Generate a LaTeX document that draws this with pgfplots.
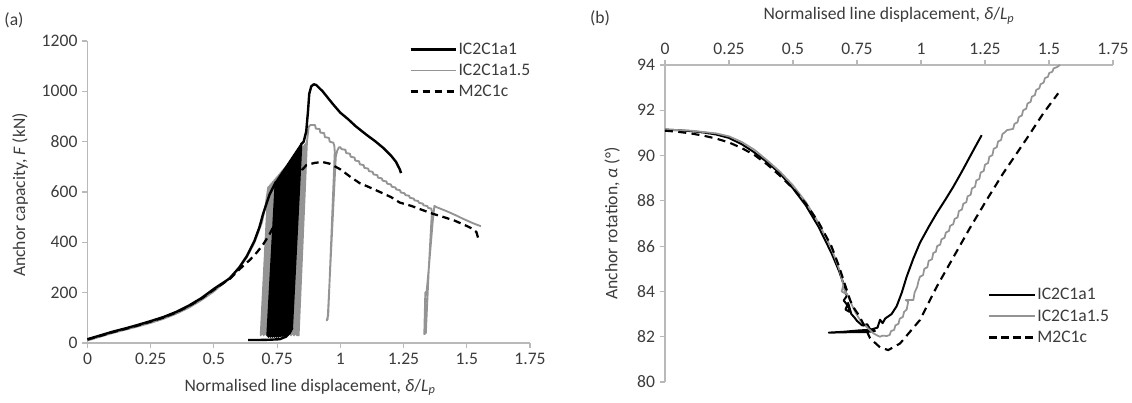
\documentclass[border=0pt]{standalone}
\usepackage{pgfplots}
\pgfplotsset{compat=1.18}
\usepackage{fontspec}
\setmainfont{Carlito}
\definecolor{sgray}{RGB}{148,148,148}
\definecolor{axgray}{RGB}{185,185,185}
\definecolor{txt}{RGB}{60,60,60}
\newcommand{\fs}{\fontsize{13.2}{15}\selectfont}
\pgfplotsset{
  common/.style={
    scale only axis,
    font=\fs,
    tick label style={text=txt, font=\fs},
    /pgf/number format/assume math mode=true,
    /pgf/number format/1000 sep={},
    axis line style={-, axgray, line width=0.8pt},
    tick style={axgray, line width=0.8pt},
    major tick length=4pt,
    tick align=outside,
    xtick={0,0.25,0.5,0.75,1,1.25,1.5,1.75},
    xticklabels={0,0.25,0.5,0.75,1,1.25,1.5,1.75},
    xmin=0, xmax=1.75,
    legend cell align=left,
    legend style={draw=none, fill=none, font=\fs, text=txt, row sep=3.8pt, inner sep=0pt, nodes={inner sep=1pt}},
    legend image code/.code={\draw[##1] (0pt,0pt) -- (34pt,0pt);},
    label style={text=txt, font=\fs},
    clip=false,
  },
  blk/.style={black, line width=1.8pt, line join=round},
  gry/.style={sgray, line width=1.4pt, line join=round},
  dsh/.style={black, line width=1.7pt, dash pattern=on 5.5pt off 3.5pt},
}
\begin{document}
\begin{tikzpicture}
\useasboundingbox (0,0) rectangle (849pt,-302.25pt);
\node[font=\fs, text=txt] at (10.5pt,-15pt) {(a)};
\node[font=\fs, text=txt] at (450pt,-13.5pt) {(b)};
% ---------------- (a)
\begin{axis}[common, at={(65.6pt,-257.25pt)}, anchor=south west,
  width=331.9pt, height=226.5pt,
  ymin=0, ymax=1200, ytick={0,200,400,600,800,1000,1200},
  axis x line*=bottom, axis y line*=left,
  xlabel={Normalised line displacement, \textit{δ}/\textit{L}\textsubscript{\textit{p}}},
  xlabel style={at={(axis description cs:0.503,-0.146)}, anchor=center},
  ylabel={Anchor capacity, \textit{F} (kN)},
  ylabel style={at={(axis description cs:-0.1525,0.49)}, anchor=center},
  legend style={at={(0.727,1.0)}, anchor=north west},
]
% gray IC2C1a1.5
\addplot[gry, forget plot] coordinates {
(0,10) (0.05,25) (0.1,40) (0.15,53) (0.2,66) (0.25,80) (0.3,96) (0.35,116) (0.4,140) (0.45,170) (0.5,205) (0.55,248) (0.6,298) (0.63,340) (0.66,398) (0.69,480) (0.705,550) (0.715,620)
(0.685,30) (0.721,627) (0.691,35) (0.727,634) (0.697,30) (0.733,641) (0.703,35) (0.739,648) (0.709,30) (0.745,655) (0.715,35) (0.751,662) (0.721,30) (0.757,669) (0.727,35) (0.763,676) (0.733,30) (0.769,683) (0.739,35) (0.775,690) (0.745,30) (0.781,697) (0.751,35) (0.787,704) (0.757,30) (0.793,711) (0.763,35) (0.799,718) (0.769,30) (0.805,725) (0.775,35) (0.811,732) (0.781,30) (0.817,739) (0.787,35) (0.823,746) (0.793,30) (0.829,753) (0.799,35) (0.835,760) (0.805,30) (0.841,767) (0.811,35) (0.847,774) (0.817,30) (0.853,781) (0.823,35) (0.859,788) (0.829,30) (0.865,795) (0.835,30)
(0.868,800) (0.875,860) (0.882,866) (0.9,866) (0.903,852) (0.918,850) (0.921,836) (0.936,834) (0.939,818) (0.955,815) (0.958,800) (0.972,796) (0.976,785) (0.978,760) (0.952,110) (0.946,90) (0.95,95) (0.982,740) (0.988,765) (0.995,778) (1.0,778) (1.005,770) (1.02,768) (1.023,755) (1.038,752) (1.041,740) (1.056,737) (1.059,725) (1.074,722) (1.077,710) (1.092,707) (1.095,696) (1.11,693) (1.113,683) (1.128,680) (1.131,670) (1.146,667) (1.149,657) (1.164,654) (1.167,645) (1.182,642) (1.185,633) (1.2,630) (1.203,621) (1.218,618) (1.221,610) (1.236,607) (1.239,598) (1.254,595) (1.257,588) (1.272,585) (1.275,577) (1.29,574) (1.293,567) (1.308,564) (1.311,557) (1.326,554) (1.329,547) (1.344,544) (1.347,537) (1.36,534) (1.362,520) (1.35,300) (1.338,40) (1.332,35) (1.336,200) (1.345,210) (1.34,190) (1.35,300) (1.365,480) (1.372,545) (1.38,540) (1.4,532) (1.42,524) (1.44,515) (1.46,506) (1.48,496) (1.5,487) (1.52,478) (1.54,470) (1.556,464)
};
% dashed M2C1c
\addplot[dsh, forget plot] coordinates {
(0,14) (0.05,28) (0.1,43) (0.15,56) (0.2,70) (0.25,85) (0.3,101) (0.35,121) (0.4,146) (0.45,176) (0.5,212) (0.563,255) (0.6,292) (0.642,330) (0.67,360) (0.695,392) (0.72,432) (0.76,510) (0.8,590) (0.83,650) (0.85,690) (0.866,707) (0.9,716) (0.93,719) (0.96,712) (1.0,690) (1.04,660) (1.077,635) (1.11,621) (1.15,603) (1.2,580) (1.235,558) (1.28,545) (1.32,530) (1.367,513) (1.4,503) (1.45,487) (1.5,465) (1.52,455) (1.538,441) (1.546,413)
};
% black IC2C1a1
\addplot[blk, forget plot] coordinates {
(0,15) (0.05,30) (0.1,45) (0.15,58) (0.2,72) (0.25,87) (0.3,103) (0.35,123) (0.4,148) (0.45,178) (0.5,215) (0.563,257) (0.6,300) (0.63,345) (0.66,405) (0.68,460) (0.695,515) (0.72,590)
(0.745,640) (0.712,30) (0.749,646) (0.716,25) (0.753,652) (0.720,30) (0.757,658) (0.724,25) (0.761,664) (0.728,30) (0.765,670) (0.732,25) (0.769,676) (0.736,30) (0.773,682) (0.740,25) (0.777,688) (0.744,30) (0.781,694) (0.748,25) (0.785,700) (0.752,30) (0.789,706) (0.756,25) (0.793,712) (0.760,30) (0.797,718) (0.764,28) (0.801,724) (0.768,30) (0.805,730) (0.772,28) (0.809,736) (0.776,30) (0.813,742) (0.780,30) (0.817,748) (0.784,32) (0.821,754) (0.788,35) (0.825,760) (0.792,38) (0.829,766) (0.796,40) (0.833,772) (0.800,45) (0.837,778) (0.804,50) (0.841,784) (0.808,55) (0.845,790)
(0.855,800) (0.865,840) (0.872,920) (0.877,990) (0.885,1020) (0.895,1028) (0.905,1025) (0.915,1015) (0.93,1000) (0.95,975) (0.97,950) (1.0,915) (1.03,890) (1.06,862) (1.1,830) (1.14,800) (1.17,775) (1.2,745) (1.22,720) (1.23,700) (1.235,690) (1.24,675)
};
\addplot[blk, forget plot] coordinates {
(0.635,12) (0.68,12) (0.72,13) (0.76,15) (0.785,25) (0.80,40) (0.81,60)
};
\addlegendimage{blk}
\addlegendentry{IC2C1a1}
\addlegendimage{gry}
\addlegendentry{IC2C1a1.5}
\addlegendimage{dsh}
\addlegendentry{M2C1c}
\end{axis}
% ---------------- (b)
\begin{axis}[common, at={(498.75pt,-286.5pt)}, anchor=south west,
  width=336pt, height=237.75pt,
  ymin=80, ymax=94, ytick={80,82,84,86,88,90,92,94},
  axis x line*=top, axis y line*=left,
  xlabel={Normalised line displacement, \textit{δ}/\textit{L}\textsubscript{\textit{p}}},
  xlabel style={at={(axis description cs:0.5,1.155)}, anchor=center},
  ylabel={Anchor rotation, \textit{α} (°)},
  ylabel style={at={(axis description cs:-0.118,0.5)}, anchor=center},
  legend style={at={(0.721,0.30)}, anchor=north west},
]
\addplot[blk, line width=1.5pt, forget plot] coordinates {
(0,91.15) (0.05,91.12) (0.1,91.08) (0.15,91.02) (0.2,90.93) (0.25,90.78) (0.3,90.5) (0.345,90.17) (0.4,89.7) (0.45,89.2) (0.5,88.55) (0.55,87.8) (0.6,86.85) (0.65,85.7) (0.68,84.9) (0.7,84.25) (0.71,83.8) (0.698,83.6) (0.712,83.4) (0.705,83.2) (0.72,83.1) (0.715,83.5) (0.728,83.0) (0.74,82.85) (0.75,82.7) (0.77,82.5) (0.79,82.55) (0.8,82.35) (0.82,82.25) (0.78,82.2) (0.72,82.2) (0.64,82.18) (0.7,82.22) (0.76,82.28) (0.8,82.3) (0.83,82.4) (0.84,82.75) (0.85,82.6) (0.86,82.8) (0.866,82.85) (0.885,83.0) (0.905,83.35) (0.925,83.95) (0.944,84.65) (0.97,85.45) (0.996,86.15) (1.03,86.85) (1.061,87.45) (1.095,88.05) (1.126,88.62) (1.16,89.3) (1.191,89.95) (1.215,90.45) (1.237,90.9)
};
\addplot[gry, line width=1.3pt, forget plot] coordinates {
(0,91.15) (0.1,91.1) (0.2,90.98) (0.25,90.85) (0.3,90.6) (0.35,90.25) (0.4,89.78) (0.45,89.28) (0.5,88.68) (0.55,87.95) (0.6,87.02) (0.65,85.9) (0.68,85.0) (0.697,84.3) (0.69,84.0) (0.705,83.9) (0.7,84.1) (0.715,83.8) (0.73,83.4) (0.745,83.05) (0.762,82.74) (0.79,82.4) (0.814,82.15) (0.83,82.05) (0.84,82.0) (0.85,82.05) (0.866,82.03) (0.878,82.08) (0.883,82.25) (0.895,82.3) (0.9,82.5) (0.912,82.57) (0.917,82.8) (0.929,82.87) (0.934,83.1) (0.944,83.2) (0.95,83.55) (0.94,83.62) (0.97,83.62) (0.975,83.95) (0.985,84.2) (0.99,84.45) (0.996,84.65) (1.008,84.72) (1.013,85.0) (1.025,85.07) (1.03,85.35) (1.043,85.42) (1.048,85.7) (1.058,85.75) (1.063,86.0) (1.075,86.07) (1.08,86.3) (1.092,86.37) (1.097,86.6) (1.109,86.67) (1.114,86.9) (1.126,86.97) (1.131,87.2) (1.143,87.27) (1.148,87.55) (1.16,87.62) (1.165,87.87) (1.177,87.94) (1.182,88.2) (1.194,88.27) (1.199,88.55) (1.211,88.62) (1.216,88.9) (1.228,88.97) (1.233,89.25) (1.245,89.32) (1.25,89.6) (1.262,89.67) (1.267,89.95) (1.279,90.02) (1.284,90.3) (1.296,90.37) (1.301,90.62) (1.313,90.69) (1.318,90.95) (1.33,91.05) (1.335,91.12) (1.36,91.18) (1.365,91.4) (1.377,91.47) (1.382,91.7) (1.394,91.77) (1.399,92.0) (1.411,92.07) (1.416,92.3) (1.428,92.37) (1.433,92.6) (1.445,92.67) (1.45,92.9) (1.462,92.97) (1.467,93.15) (1.479,93.22) (1.484,93.42) (1.496,93.48) (1.501,93.65) (1.513,93.7) (1.518,93.85) (1.53,93.9) (1.543,94.0)
};
\addplot[dsh, line width=1.6pt, dash pattern=on 6pt off 4pt, forget plot] coordinates {
(0,91.1) (0.05,91.05) (0.1,90.98) (0.15,90.88) (0.2,90.75) (0.25,90.58) (0.3,90.33) (0.35,90.02) (0.4,89.6) (0.45,89.1) (0.5,88.55) (0.55,87.88) (0.6,87.05) (0.65,86.0) (0.68,85.1) (0.7,84.4) (0.723,83.62) (0.736,83.3) (0.76,82.9) (0.78,82.45) (0.801,81.93) (0.84,81.53) (0.872,81.41) (0.918,81.7) (0.957,82.22) (0.996,82.74) (1.061,84.2) (1.126,85.5) (1.191,86.8) (1.257,88.05) (1.32,89.2) (1.413,90.75) (1.478,91.87) (1.536,92.75)
};
\addlegendimage{blk}
\addlegendentry{IC2C1a1}
\addlegendimage{gry}
\addlegendentry{IC2C1a1.5}
\addlegendimage{dsh}
\addlegendentry{M2C1c}
\end{axis}
\end{tikzpicture}
\end{document}
